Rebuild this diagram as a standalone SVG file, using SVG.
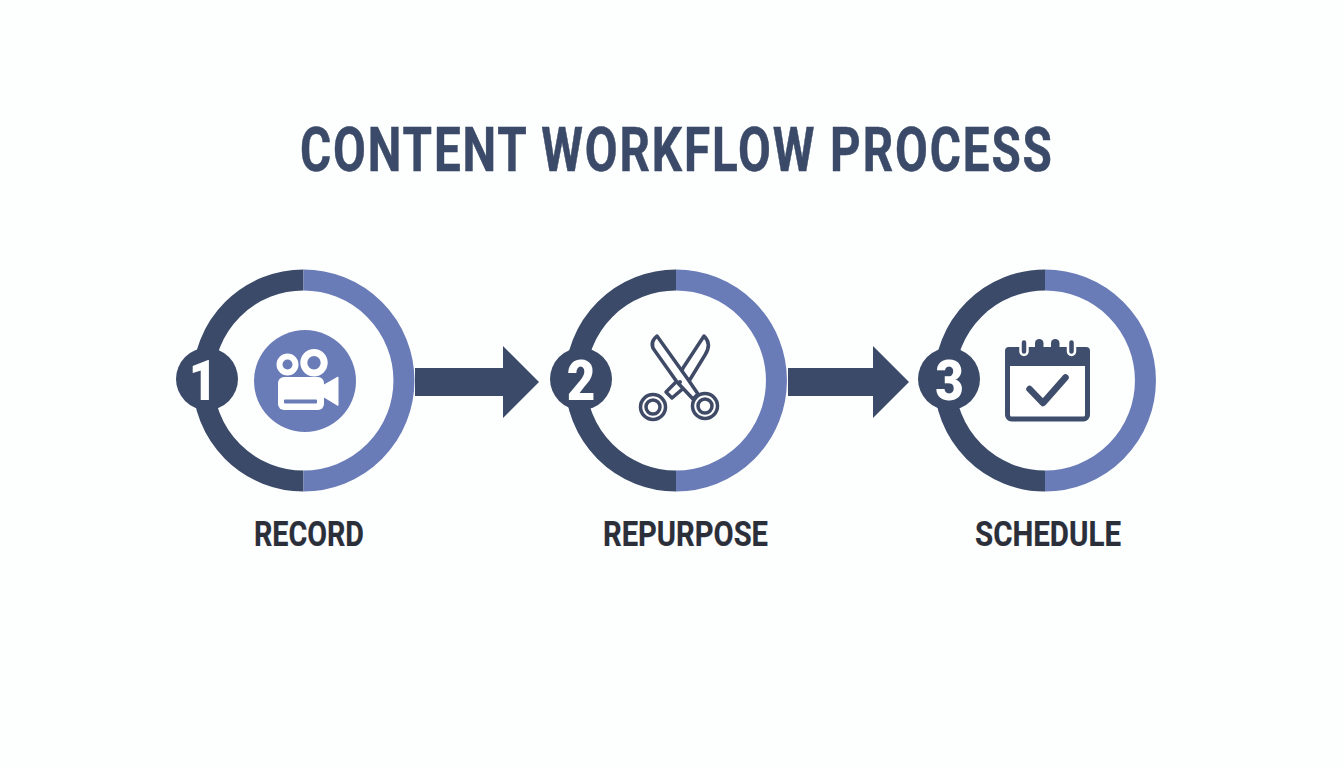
<svg xmlns="http://www.w3.org/2000/svg" width="1344" height="768" viewBox="0 0 1344 768">
<defs>
<style>
text{font-family:Roboto,"Liberation Sans",sans-serif;font-weight:700}
.title{font-size:61px;fill:#3a4a68;stroke:#3a4a68;stroke-width:.5}
.label{font-size:35px;fill:#2b2f3a;stroke:#2b2f3a;stroke-width:.2}
.num{font-size:56px;font-weight:900;fill:#fff;text-anchor:middle}
.dark{fill:none;stroke:#3a4a68;stroke-width:21}
.light{fill:none;stroke:#6a7cb8;stroke-width:21}
.badge{fill:#3a4a68}
.ln{fill:#fff;stroke:#3f4a66;stroke-width:3.500;stroke-linejoin:round;stroke-linecap:round}
.cal{fill:#3f4e6c}
</style>
</defs>
<rect width="1344" height="768" fill="#fdfefe"/>
<text id="title" class="title" transform="translate(300 171) scale(.78 1)" x="0" y="0" textLength="964" lengthAdjust="spacing">CONTENT WORKFLOW PROCESS</text>
<g id="connectors">
<polygon class="badge" points="415,368 503,368 503,346 539,382 503,418 503,396 415,396"/>
<polygon class="badge" points="788,368 873,368 873,346 909,382 873,418 873,396 788,396"/>
</g>
<g id="node-1">
<path class="dark" d="M303.500 280 A100.500 100.500 0 0 0 303.500 481"/>
<path class="light" d="M303.500 280 A100.500 100.500 0 0 1 303.500 481"/>
<circle class="badge" cx="207" cy="379" r="31"/>
<text class="num" transform="translate(203 400) scale(.88 1)">1</text>
<circle cx="305" cy="381" r="51" fill="#6a7cb8"/>
<circle cx="287.500" cy="364.500" r="8" fill="none" stroke="#fff" stroke-width="6"/>
<circle cx="314" cy="362.700" r="10.200" fill="none" stroke="#fff" stroke-width="7"/>
<rect x="278" y="377" width="46" height="33" rx="6" fill="#fff"/>
<polygon points="324,385 338,377 338,405.500 324,397" fill="#fff" stroke="#fff" stroke-linejoin="round"/>
<rect x="284" y="399.500" width="33" height="4" rx="1" fill="#6a7cb8"/>
<text class="label" x="254" y="546" textLength="110" lengthAdjust="spacingAndGlyphs">RECORD</text>
</g>
<g id="node-2">
<path class="dark" d="M676 280 A100.500 100.500 0 0 0 676 481"/>
<path class="light" d="M676 280 A100.500 100.500 0 0 1 676 481"/>
<circle class="badge" cx="581" cy="379" r="31"/>
<text class="num" transform="translate(581 400) scale(.88 1)">2</text>
<path class="ln" d="M704 336 C710 342 709 349 705 355 L686 386 L672 398 L666 392 L678 380 L683 368 Z"/>
<path class="ln" d="M657 336 C651 341 651 346 655 351 L677 382 L693 399 L698 394 L687 378 Z"/>
<circle class="ln" cx="653" cy="407" r="12.500"/>
<circle class="ln" cx="653" cy="407" r="7"/>
<circle class="ln" cx="705" cy="406" r="12.500"/>
<circle class="ln" cx="705" cy="406" r="7"/>
<circle cx="680" cy="382" r="2" fill="#3f4a66"/>
<text class="label" x="603" y="546" textLength="165" lengthAdjust="spacingAndGlyphs">REPURPOSE</text>
</g>
<g id="node-3">
<path class="dark" d="M1045 280 A100.500 100.500 0 0 0 1045 481"/>
<path class="light" d="M1045 280 A100.500 100.500 0 0 1 1045 481"/>
<circle class="badge" cx="949" cy="379" r="31"/>
<text class="num" transform="translate(949.500 400) scale(.88 1)">3</text>
<rect x="1007.500" y="349.500" width="80" height="69.500" rx="4" fill="#fff" stroke="#3f4e6c" stroke-width="5"/>
<path class="cal" d="M1005 366 V351 Q1005 347 1009 347 H1086 Q1090 347 1090 351 V366 Z"/>
<rect class="cal" x="1020.500" y="339" width="7" height="16" rx="3.500" stroke="#fff" stroke-width="2.500"/>
<rect class="cal" x="1035" y="339" width="8.500" height="14" rx="4.200"/>
<rect class="cal" x="1051" y="339" width="8.500" height="14" rx="4.200"/>
<rect class="cal" x="1068" y="339" width="7" height="16" rx="3.500" stroke="#fff" stroke-width="2.500"/>
<path d="M1029.500 389 L1043 403 L1065.500 377.500" fill="none" stroke="#3f4e6c" stroke-width="6.500" stroke-linecap="round" stroke-linejoin="round"/>
<text class="label" x="975" y="546" textLength="146" lengthAdjust="spacingAndGlyphs">SCHEDULE</text>
</g>
</svg>
